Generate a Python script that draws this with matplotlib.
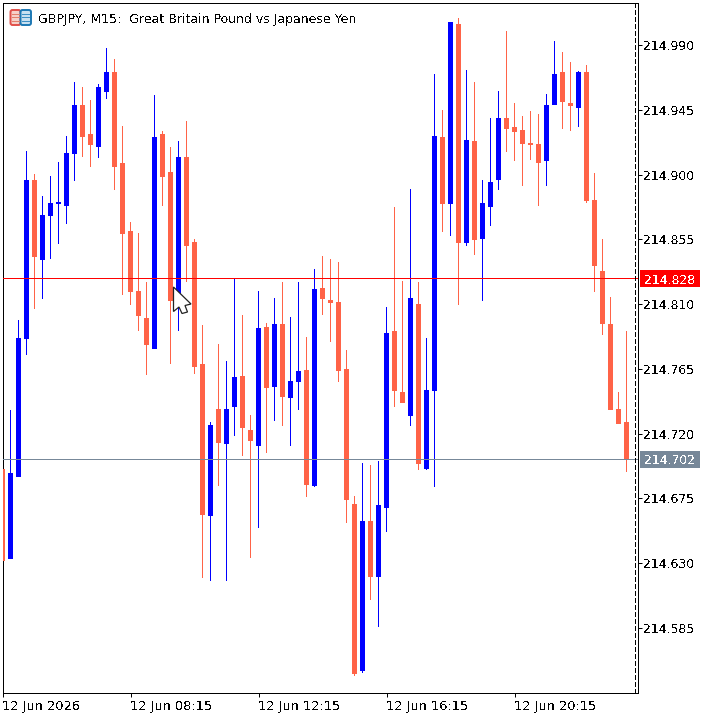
import matplotlib
matplotlib.use("Agg")
import matplotlib.pyplot as plt
from matplotlib.patches import Polygon, Rectangle, FancyBboxPatch
from matplotlib.transforms import Affine2D
import numpy as np

W, H = 715, 719
plt.rcParams["font.family"] = "DejaVu Sans"
plt.rcParams["text.antialiased"] = False

# GBPJPY M15 session, one entry per bar
highs = [214.6953, 214.7363, 214.7989, 214.9163, 214.9004, 214.8850, 214.8990, 214.9087, 214.9268, 214.9643,
         214.9608, 214.9518, 214.9629, 214.9879, 214.9803, 214.9337, 214.8670, 214.8594, 214.8253, 214.9553,
         214.9303, 214.9191, 214.9233, 214.9372, 214.8552, 214.7954, 214.7280, 214.7822, 214.7704, 214.8281,
         214.8024, 214.7329, 214.8190, 214.7968, 214.8142, 214.8253, 214.8010, 214.8253, 214.7871, 214.8343,
         214.8434, 214.8413, 214.8392, 214.7780, 214.6766, 214.6995, 214.6981, 214.7009, 214.8079, 214.8774,
         214.8260, 214.8899, 214.8253, 214.7864, 214.9699, 214.9448, 215.0060, 215.0088, 214.9727, 214.9643,
         214.8962, 214.9393, 214.9581, 214.9998, 214.9497, 214.9407, 214.9442, 214.9421, 214.9560, 214.9928,
         214.9852, 214.9782, 214.9720, 214.9761, 214.9011, 214.8552, 214.8149, 214.7489, 214.7913]
tops = [214.6953, 214.6926, 214.7864, 214.8962, 214.8962, 214.8719, 214.8802, 214.8809, 214.9150, 214.9483,
        214.9483, 214.9282, 214.9608, 214.9713, 214.9713, 214.9080, 214.8608, 214.8190, 214.8003, 214.9261,
        214.9282, 214.9018, 214.9122, 214.9122, 214.8531, 214.7683, 214.7259, 214.7370, 214.7370, 214.7593,
        214.7600, 214.7225, 214.7933, 214.7940, 214.7961, 214.7961, 214.7565, 214.7634, 214.7641, 214.8204,
        214.8211, 214.8128, 214.8114, 214.7648, 214.6710, 214.6592, 214.6592, 214.6703, 214.7899, 214.7913,
        214.7489, 214.8142, 214.8100, 214.7503, 214.9268, 214.9261, 215.0060, 215.0046, 214.9240, 214.9233,
        214.8802, 214.8948, 214.9393, 214.9393, 214.9330, 214.9310, 214.9219, 214.9212, 214.9483, 214.9699,
        214.9713, 214.9497, 214.9713, 214.9713, 214.8823, 214.8329, 214.7961, 214.7370, 214.7280]
bottoms = [214.6314, 214.6328, 214.6898, 214.7857, 214.8427, 214.8406, 214.8712, 214.8795, 214.8781, 214.9143,
           214.9261, 214.9205, 214.9191, 214.9574, 214.9052, 214.8587, 214.8184, 214.8017, 214.7815, 214.7787,
           214.8983, 214.8121, 214.8128, 214.8503, 214.7662, 214.6634, 214.6627, 214.7134, 214.7127, 214.7384,
           214.7238, 214.7148, 214.7113, 214.7516, 214.7523, 214.7454, 214.7447, 214.7558, 214.6842, 214.6835,
           214.8135, 214.8107, 214.7634, 214.6738, 214.5529, 214.5549, 214.6203, 214.6203, 214.6682, 214.7496,
           214.7412, 214.7322, 214.6988, 214.6953, 214.7496, 214.8795, 214.8795, 214.8524, 214.8524, 214.8545,
           214.8552, 214.8774, 214.8962, 214.9316, 214.9296, 214.9212, 214.9205, 214.9080, 214.9094, 214.9483,
           214.9504, 214.9476, 214.9462, 214.8816, 214.8364, 214.7961, 214.7363, 214.7266, 214.7016]
lows = [214.6314, 214.6328, 214.6898, 214.7746, 214.8065, 214.8135, 214.8413, 214.8517, 214.8656, 214.8955,
        214.9122, 214.9052, 214.9115, 214.9525, 214.8892, 214.8163, 214.8093, 214.7913, 214.7607, 214.7787,
        214.8781, 214.7683, 214.7913, 214.8253, 214.7614, 214.6196, 214.6175, 214.6835, 214.6175, 214.7183,
        214.7044, 214.6335, 214.6543, 214.7065, 214.7287, 214.7252, 214.7113, 214.7363, 214.6759, 214.6828,
        214.8024, 214.7836, 214.7558, 214.6578, 214.5515, 214.5536, 214.6043, 214.5855, 214.6516, 214.7384,
        214.7412, 214.7252, 214.6946, 214.6946, 214.6828, 214.8601, 214.8573, 214.8093, 214.8503, 214.8441,
        214.8121, 214.8642, 214.8892, 214.9157, 214.9094, 214.8920, 214.9101, 214.8781, 214.8920, 214.9483,
        214.9316, 214.9303, 214.9330, 214.8802, 214.8184, 214.7885, 214.7363, 214.7266, 214.6933]
falling = [1, 0, 0, 0, 1, 0, 0, 0, 0, 0,
           1, 1, 0, 0, 1, 1, 1, 1, 1, 0,
           1, 1, 0, 1, 1, 1, 0, 1, 0, 0,
           1, 1, 0, 1, 0, 1, 0, 0, 1, 0,
           1, 1, 1, 1, 1, 0, 1, 0, 0, 1,
           1, 0, 1, 0, 0, 1, 0, 1, 0, 1,
           0, 0, 0, 1, 1, 1, 1, 1, 0, 0,
           1, 1, 0, 1, 1, 1, 1, 1, 1]

price_ticks = [214.990, 214.945, 214.900, 214.855, 214.810,
               214.765, 214.720, 214.675, 214.630, 214.585]
time_tick_bars = [0, 16, 32, 48, 64]
time_tick_labels = ["12 Jun 2026", "12 Jun 08:15", "12 Jun 12:15", "12 Jun 16:15", "12 Jun 20:15"]
bid_price = 214.828
ask_price = 214.702
shift_bar = 79
title = "GBPJPY, M15:  Great Britain Pound vs Japanese Yen"

BLUE = "#0000FF"
TOMATO = "#FF6347"
SLATE = "#778899"

fig = plt.figure(figsize=(W / 100, H / 100), dpi=100, facecolor="white")
left, right, top, bottom = 2.5, 637.5, 2.5, 692.5
ax = fig.add_axes([left / W, 1 - bottom / H, (right - left) / W, (bottom - top) / H])
ax.set_xlim(0, (right - left) / 8)
ax.set_ylim(214.53993, 215.01976)

x = np.arange(len(highs))
colors = [TOMATO if f else BLUE for f in falling]
# wicks one pixel wide, bodies five
ax.bar(x, np.array(highs) - np.array(lows), bottom=lows, width=1 / 8, color=colors,
       linewidth=0, antialiased=False, zorder=3)
ax.bar(x, np.array(tops) - np.array(bottoms), bottom=bottoms, width=5 / 8, color=colors,
       linewidth=0, antialiased=False, zorder=4)

ax.axhline(bid_price, color="#FF0000", linewidth=0.72, antialiased=False, zorder=5)
ax.axhline(ask_price, color=SLATE, linewidth=0.72, antialiased=False, zorder=5)
ax.axvline(shift_bar, color="black", linewidth=0.72, dashes=(4.2, 2.8), antialiased=False, zorder=5)

for spine in ax.spines.values():
    spine.set_linewidth(0.72)
    spine.set_antialiased(False)
ax.yaxis.tick_right()
ax.set_yticks(price_ticks, [f"{p:.3f}" for p in price_ticks], fontsize=8.9)
ax.set_xticks(time_tick_bars, time_tick_labels, fontsize=9.25, ha="left")
ax.tick_params(axis="y", length=2.9, width=0.72, pad=1.2)
ax.tick_params(axis="x", length=2.9, width=0.72, pad=2.2)

# overlays positioned in screen pixels, origin at the top left
px = Affine2D().scale(1, -1).translate(0, H)


def price_tag(y0, y1, color, text):
    fig.add_artist(Rectangle((640, y0), 60, y1 - y0, transform=px, facecolor=color,
                             edgecolor="none", antialiased=False))
    fig.text(644.5, (y0 + y1) / 2, text, transform=px, color="white", fontsize=8.9,
             ha="left", va="center_baseline")


price_tag(270, 287, "#FF0000", f"{bid_price:.3f}")
price_tag(451, 468, SLATE, f"{ask_price:.3f}")

fig.text(38, 18, title, transform=px, fontsize=9.0, color="black", ha="left", va="center_baseline")

# chart symbol icon: red and blue halves with pale rows
fig.add_artist(FancyBboxPatch((10.5, 10), 10, 15, boxstyle="round,pad=0,rounding_size=2", transform=px,
                              facecolor="#F7D0C8", edgecolor="#E2504A", linewidth=1.4))
fig.add_artist(FancyBboxPatch((20.5, 10), 10.5, 15, boxstyle="round,pad=0,rounding_size=2", transform=px,
                              facecolor="#C8E0F0", edgecolor="#1C78B4", linewidth=1.4))
for row in (13.5, 17, 20.5):
    fig.add_artist(Rectangle((12, row), 8, 1.2, transform=px, facecolor="#E2806C", edgecolor="none"))
    fig.add_artist(Rectangle((21.5, row), 8, 1.2, transform=px, facecolor="#3D8FC4", edgecolor="none"))

# mouse pointer left over the chart
pointer = [(173.5, 287), (191, 304), (185, 305.5), (187.5, 312), (182, 313.5), (179, 307), (173.5, 311.5)]
fig.add_artist(Polygon(pointer, closed=True, transform=px, facecolor="white", edgecolor="#222222",
                       linewidth=0.9, zorder=10))

fig.savefig("out.png", dpi=100, facecolor="white")
